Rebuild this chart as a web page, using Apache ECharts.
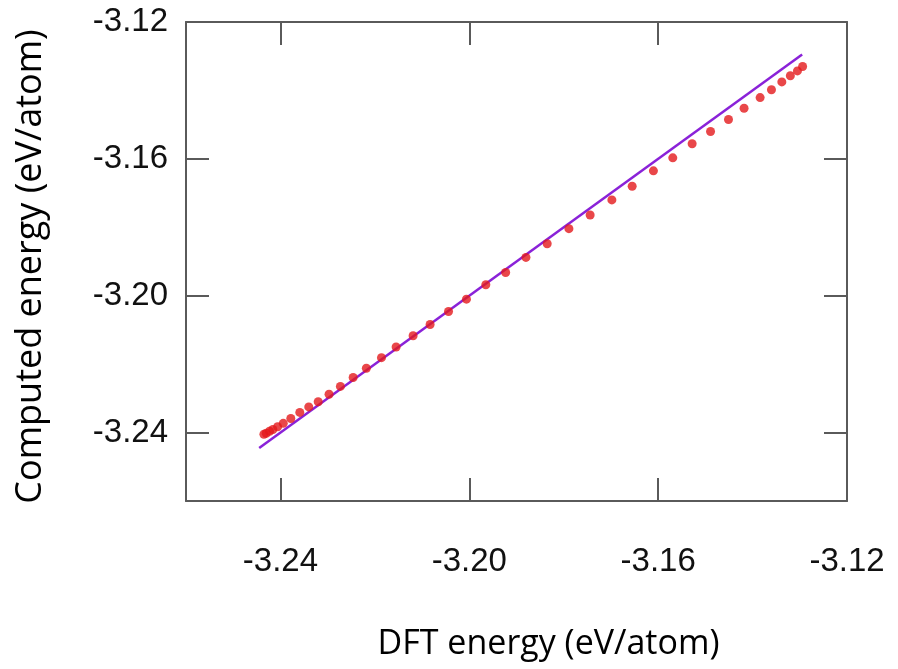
<!DOCTYPE html>
<html>
<head>
<meta charset="utf-8">
<script src="https://cdn.jsdelivr.net/npm/echarts@6/dist/echarts.min.js"></script>
<style>html,body{margin:0;padding:0;background:#fff}#c{width:898px;height:669px}</style>
</head>
<body>
<div id="c"></div>
<script>
// DFT energy (x) and computed energy (y), eV/atom
const dftEnergy = [
  -3.2435, -3.2430, -3.2423, -3.2416, -3.2406, -3.2394, -3.2378, -3.2359, -3.2340, -3.2320,
  -3.2297, -3.2273, -3.2246, -3.2218, -3.2186, -3.2155, -3.2119, -3.2083, -3.2044, -3.2006,
  -3.1965, -3.1923, -3.1880, -3.1835, -3.1789, -3.1744, -3.1698, -3.1655, -3.1610, -3.1569,
  -3.1528, -3.1489, -3.1451, -3.1418, -3.1384, -3.1360, -3.1338, -3.1320, -3.1305, -3.1294
];
const computedEnergy = [
  -3.2405, -3.2402, -3.2396, -3.2391, -3.2383, -3.2373, -3.2359, -3.2341, -3.2325, -3.2310,
  -3.2288, -3.2265, -3.2239, -3.2212, -3.2181, -3.2150, -3.2117, -3.2084, -3.2046, -3.2010,
  -3.1968, -3.1932, -3.1888, -3.1848, -3.1804, -3.1764, -3.1720, -3.1680, -3.1635, -3.1597,
  -3.1556, -3.1520, -3.1485, -3.1452, -3.1421, -3.1398, -3.1375, -3.1357, -3.1343, -3.1330
];
const idealLine = [[-3.2445, -3.2445], [-3.1295, -3.1295]];
const xTicks = [-3.24, -3.20, -3.16, -3.12];
const yTicks = [-3.24, -3.20, -3.16, -3.12];
const xTitle = 'DFT energy (eV/atom)';
const yTitle = 'Computed energy (eV/atom)';

const points = dftEnergy.map((x, i) => [x, computedEnergy[i]]);
const axisColor = '#5a5a5a';
const labelFont = {fontFamily: "'Liberation Sans', sans-serif", fontSize: 33, color: '#111'};

function makeAxis(pos, ticks, extra) {
  return Object.assign({
    type: 'value', min: -3.26, max: -3.12, position: pos,
    splitLine: {show: false},
    axisLine: {show: true, onZero: false, lineStyle: {color: axisColor, width: 2}},
    axisTick: {show: true, inside: true, length: 23, customValues: ticks, lineStyle: {color: axisColor, width: 2}},
    axisLabel: {show: false}
  }, extra);
}
const chart = echarts.init(document.getElementById('c'));
chart.setOption({
  animation: false,
  backgroundColor: '#fff',
  grid: {left: 186, right: 51, top: 22, bottom: 168, containLabel: false, outerBoundsMode: 'none'},
  xAxis: [
    makeAxis('bottom', xTicks, {
      axisLabel: Object.assign({show: true, margin: 44, customValues: xTicks, formatter: v => v.toFixed(2)}, labelFont),
      name: xTitle, nameLocation: 'middle', nameGap: 126,
      nameTextStyle: {fontFamily: 'Open Sans', fontSize: 34, color: '#000', padding: [0, 0, 0, 64]}}),
    makeAxis('top', xTicks, {})
  ],
  yAxis: [
    makeAxis('left', yTicks, {
      axisLabel: Object.assign({show: true, margin: 18, customValues: yTicks, formatter: v => v.toFixed(2)}, labelFont),
      name: yTitle, nameLocation: 'middle', nameGap: 137,
      nameTextStyle: {fontFamily: 'Open Sans', fontSize: 36, color: '#000', padding: [0, 10, 0, 0]}}),
    makeAxis('right', yTicks, {})
  ],
  series: [
    {type: 'line', data: idealLine, xAxisIndex: 0, yAxisIndex: 0, showSymbol: false, symbol: 'none',
     lineStyle: {color: '#8a22d8', width: 2.5}, z: 2},
    {type: 'scatter', data: points, xAxisIndex: 0, yAxisIndex: 0, symbolSize: 9,
     itemStyle: {color: '#e3191b'}, z: 3}
  ]
});
</script>
</body>
</html>
